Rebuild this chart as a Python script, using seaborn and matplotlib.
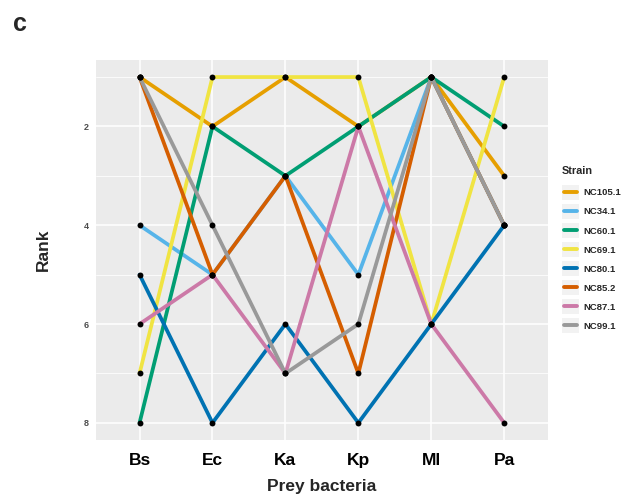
import matplotlib
matplotlib.use("Agg")
import matplotlib.pyplot as plt
import seaborn as sns
import pandas as pd
from matplotlib.lines import Line2D
from matplotlib.patches import Rectangle
from matplotlib.legend_handler import HandlerBase

# Data
prey = ["Bs", "Ec", "Ka", "Kp", "Ml", "Pa"]
strains = ["NC105.1", "NC34.1", "NC60.1", "NC69.1", "NC80.1", "NC85.2", "NC87.1", "NC99.1"]
nc105_1 = [1, 2, 1, 2, 1, 3]
nc34_1 = [4, 5, 3, 5, 1, 4]
nc60_1 = [8, 2, 3, 2, 1, 2]
nc69_1 = [7, 1, 1, 1, 6, 1]
nc80_1 = [5, 8, 6, 8, 6, 4]
nc85_2 = [1, 5, 3, 7, 1, 4]
nc87_1 = [6, 5, 7, 2, 6, 8]
nc99_1 = [1, 4, 7, 6, 1, 4]
palette = ["#E69F00", "#56B4E9", "#009E73", "#F0E442",
           "#0072B2", "#D55E00", "#CC79A7", "#999999"]

ranks = [nc105_1, nc34_1, nc60_1, nc69_1, nc80_1, nc85_2, nc87_1, nc99_1]
rows = []
for s, r in zip(strains, ranks):
    for p, v in zip(prey, r):
        rows.append({"Prey": p, "Rank": v, "Strain": s})
df = pd.DataFrame(rows)

sns.set_theme(style="darkgrid", rc={
    "axes.facecolor": "#EBEBEB",
    "grid.color": "white",
})
plt.rcParams["font.family"] = ["Liberation Sans", "DejaVu Sans"]

fig = plt.figure(figsize=(6.22, 4.94), dpi=100)
ax = fig.add_axes([0.154, 0.109, 0.727, 0.770])

sns.lineplot(data=df, x="Prey", y="Rank", hue="Strain", hue_order=strains,
             palette=palette, linewidth=2.7, sort=False, legend=False, ax=ax)
sns.scatterplot(data=df, x="Prey", y="Rank", color="black", s=18,
                linewidth=0, zorder=5, ax=ax)

ax.set_xlim(-0.6, 5.6)
ax.set_ylim(8.35, 0.65)
ax.set_yticks([2, 4, 6, 8])
ax.set_yticks([1, 3, 5, 7], minor=True)
ax.grid(which="major", color="white", linewidth=1.1)
ax.grid(which="minor", axis="y", color="white", linewidth=0.55)
ax.tick_params(axis="y", which="major", length=3, width=0.8, color="#333333",
               labelsize=6.5, labelcolor="#4D4D4D", pad=2)
ax.tick_params(axis="x", which="major", length=3, width=0.8, color="#333333",
               labelsize=12.5, labelcolor="black", pad=6)
ax.tick_params(which="minor", length=0)
for lab in ax.get_yticklabels() + ax.get_xticklabels():
    lab.set_fontweight("bold")
for sp in ax.spines.values():
    sp.set_visible(False)

ax.set_xlabel("Prey bacteria", fontsize=12.5, fontweight="bold", labelpad=8)
ax.set_ylabel("Rank", fontsize=12.5, fontweight="bold", labelpad=24)

fig.text(0.021, 0.975, "c", fontsize=18, fontweight="bold", va="top", ha="left")


class KeyHandler(HandlerBase):
    def create_artists(self, legend, orig_handle, xd, yd, w, h, fs, trans):
        bg = Rectangle((-xd, -yd - 1.5), w, h + 3, facecolor="#F2F2F2",
                       edgecolor="none", transform=trans)
        ln = Line2D([-xd + 1.5, -xd + w - 1.5], [h / 2 - yd] * 2,
                    color=orig_handle.get_color(), lw=2.8, transform=trans)
        return [bg, ln]


handles = [Line2D([], [], color=c) for c in palette]
leg = ax.legend(handles, strains, title="Strain", loc="upper left",
                bbox_to_anchor=(562 / 622, 1 - 166 / 494),
                bbox_transform=fig.transFigure, frameon=False,
                fontsize=6.8, title_fontsize=7.8, handlelength=1.8,
                handleheight=1.32, labelspacing=0.91, handletextpad=0.5,
                borderpad=0, borderaxespad=0,
                handler_map={Line2D: KeyHandler()})
leg.get_title().set_fontweight("bold")
leg._legend_box.align = "left"
leg._legend_box.sep = 8
for t in leg.get_texts():
    t.set_fontweight("bold")

fig.savefig("out.png", dpi=100)
